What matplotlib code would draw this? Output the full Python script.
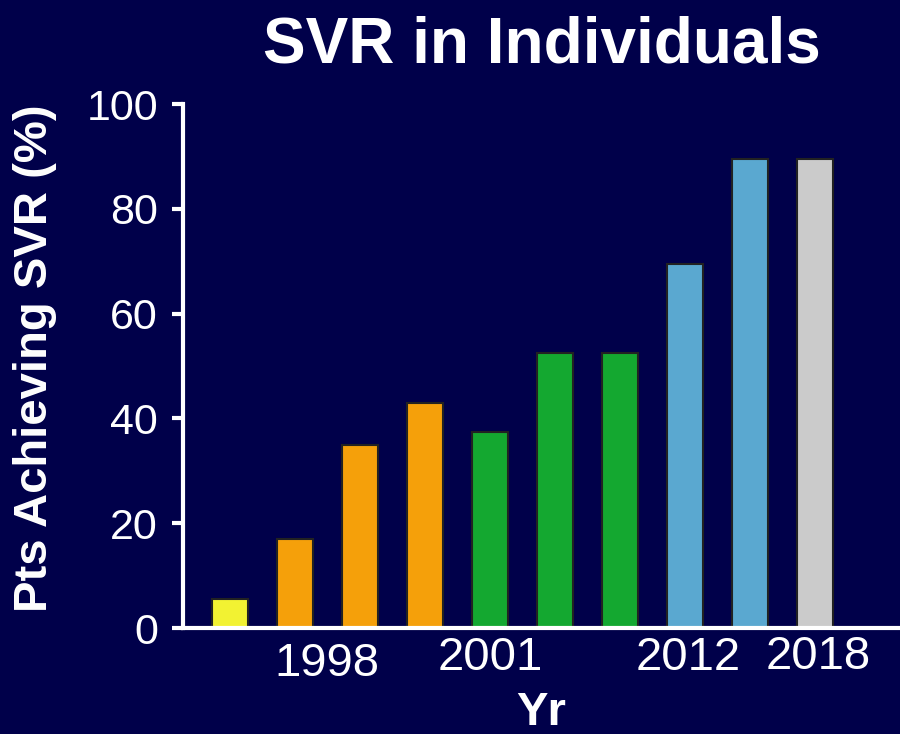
import matplotlib.pyplot as plt
from matplotlib.transforms import ScaledTranslation

plt.rcParams['font.family'] = ['Liberation Sans', 'DejaVu Sans']

# bar values (% of patients achieving SVR)
svr_pct = [5.5, 17, 35, 43, 37.5, 52.5, 52.5, 69.5, 89.5, 89.5]
bar_colors = ["#f2f232", "#f5a00a", "#f5a00a", "#f5a00a",
              "#14a830", "#14a830", "#14a830",
              "#5aa8d0", "#5aa8d0", "#cbcbcb"]
year_pos = [1.5, 4, 7.05, 9.05]
year_labels = ["1998", "2001", "2012", "2018"]
year_drop = [4, 0, 0, -1]  # small vertical shifts of each label, in points

bg = "#00004a"
fig = plt.figure(figsize=(9, 7.34), dpi=100, facecolor=bg)
ax = fig.add_axes([0.2033, 0.1444, 0.7967, 0.7139], facecolor=bg)

x = list(range(len(svr_pct)))
ax.bar(x, svr_pct, width=0.55, color=bar_colors, edgecolor="#222222",
       linewidth=1.5, zorder=2)

ax.set_xlim(-0.72, 10.31)
ax.set_ylim(0, 100)
ax.set_yticks([0, 20, 40, 60, 80, 100])
ax.tick_params(axis="y", colors="white", labelsize=31, length=8, width=3,
               pad=10, direction="out")
ax.set_xticks(year_pos)
ax.set_xticklabels(year_labels)
ax.tick_params(axis="x", colors="white", labelsize=34, length=0, pad=6)
for lbl, d in zip(ax.get_xticklabels(), year_drop):
    lbl.set_transform(lbl.get_transform() +
                      ScaledTranslation(0, -d / 72, fig.dpi_scale_trans))

for side in ["top", "right"]:
    ax.spines[side].set_visible(False)
for side in ["left", "bottom"]:
    ax.spines[side].set_color("white")
    ax.spines[side].set_linewidth(3)
ax.spines["bottom"].set_zorder(3)

ax.set_ylabel("Pts Achieving SVR (%)", color="white", fontsize=34,
              fontweight="bold")
ax.yaxis.set_label_coords(-0.175, 0.515)
ax.set_xlabel("Yr", color="white", fontsize=34, fontweight="bold", labelpad=4)
ax.set_title("SVR in Individuals", color="white", fontsize=46,
             fontweight="bold", pad=30)

fig.savefig("out.png", dpi=100, facecolor=bg)
